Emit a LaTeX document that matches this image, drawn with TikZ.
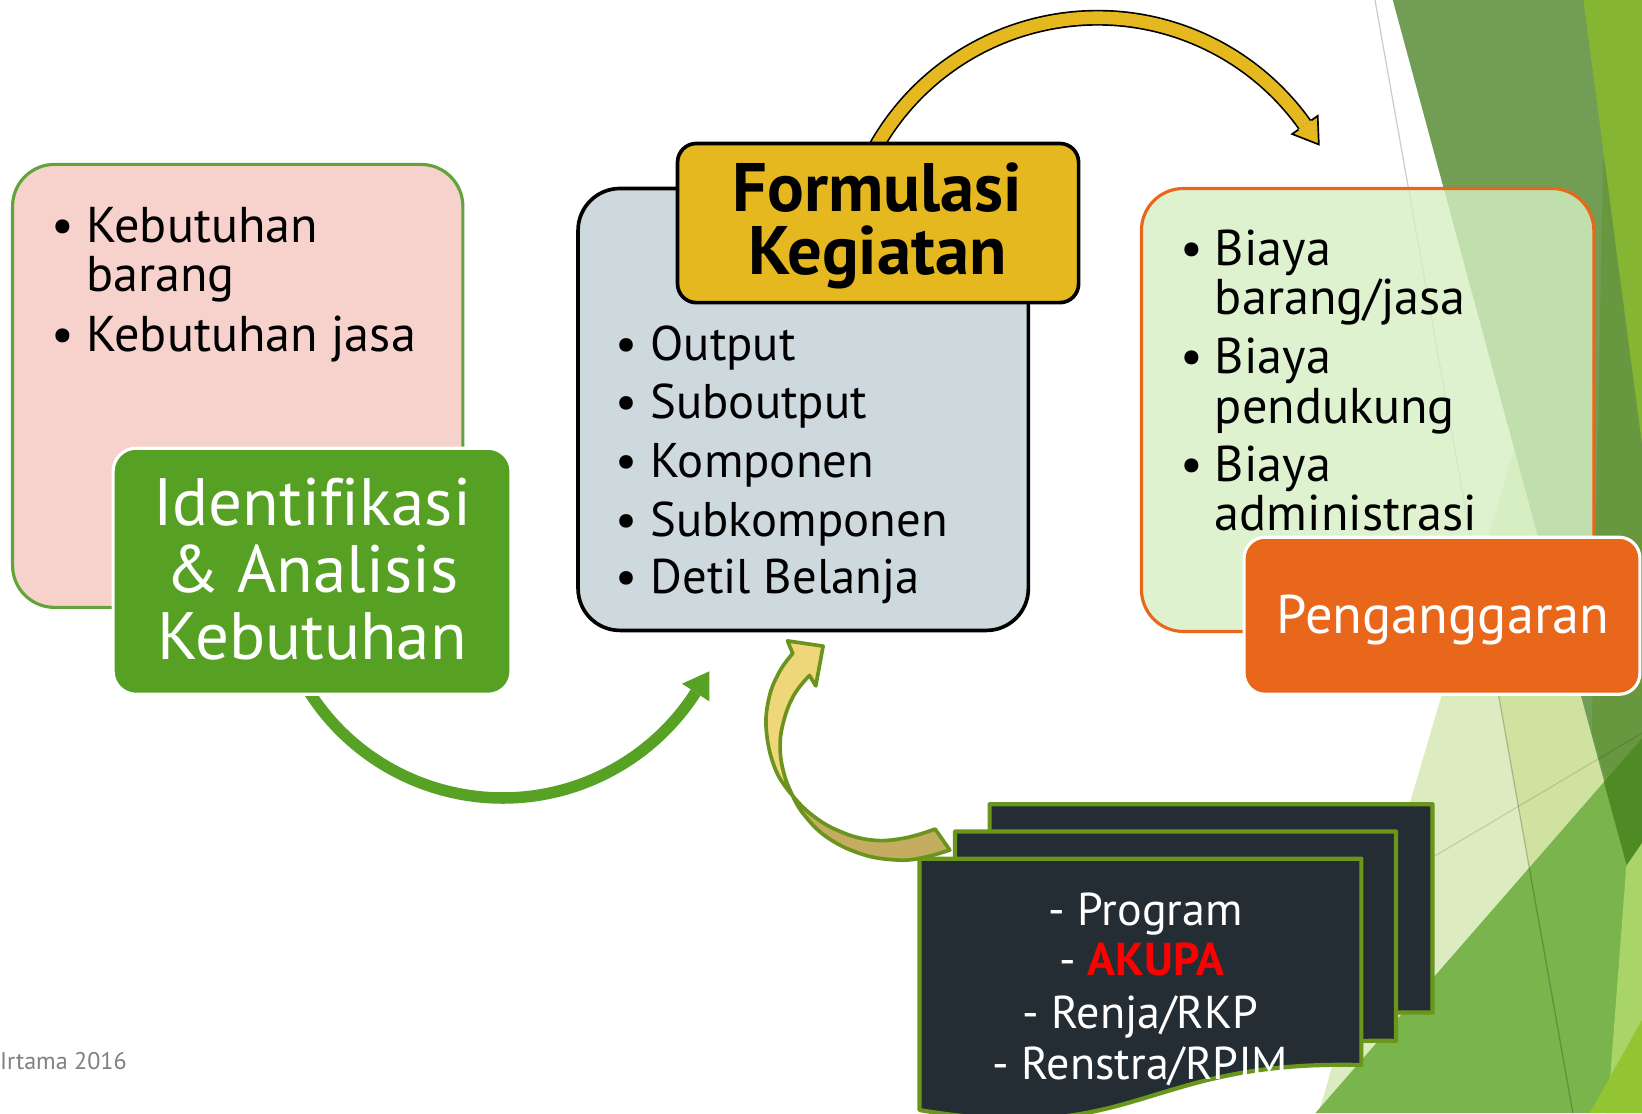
\documentclass[tikz,border=0pt]{standalone}
\usepackage{fontspec}
\setmainfont{PT Sans}[Ligatures=NoCommon]
\usetikzlibrary{calc}
\definecolor{pinkfill}{RGB}{247,210,205}
\definecolor{pinkedge}{RGB}{98,163,58}
\definecolor{gboxfill}{RGB}{86,161,35}
\definecolor{grayfill}{RGB}{206,217,222}
\definecolor{yelfill}{RGB}{228,184,30}
\definecolor{orangec}{RGB}{232,103,26}
\definecolor{rboxfill}{RGB}{214,239,196}
\definecolor{docfill}{RGB}{36,45,51}
\definecolor{docedge}{RGB}{106,150,28}
\definecolor{khakiedge}{RGB}{107,148,30}
\definecolor{khakiup}{RGB}{240,214,122}
\definecolor{khakilow}{RGB}{196,172,96}
\definecolor{garrow}{RGB}{87,161,37}
\definecolor{bgdark}{RGB}{113,157,85}
\definecolor{bgdeeper}{RGB}{103,152,64}
\definecolor{bgyg}{RGB}{134,181,52}
\definecolor{bgmid}{RGB}{122,180,76}
\definecolor{bgpale}{RGB}{220,235,192}
\definecolor{bgpaleb}{RGB}{208,226,160}
\definecolor{bglight}{RGB}{169,212,104}
\definecolor{bgygb}{RGB}{147,196,50}
\definecolor{bgdeep}{RGB}{80,138,36}
\definecolor{footgray}{RGB}{128,128,128}
\definecolor{akupared}{RGB}{255,0,0}
\tikzset{
  roundbox/.style={inner sep=0pt, outer sep=0pt},
  itemL/.style={inner sep=0pt, anchor=base west, font=\fontsize{48}{52}\selectfont},
  dotL/.style={inner sep=0pt, anchor=base, font=\fontsize{48}{52}\selectfont},
  itemC/.style={inner sep=0pt, anchor=base west, font=\fontsize{46.5}{50}\selectfont},
  dotC/.style={inner sep=0pt, anchor=base, font=\fontsize{46.5}{50}\selectfont},
  gboxtxt/.style={inner sep=0pt, anchor=base, text=white, font=\fontsize{64}{66}\selectfont},
  ftxt/.style={inner sep=0pt, anchor=base, font=\fontsize{65.5}{68}\selectfont\bfseries},
  ptxt/.style={inner sep=0pt, anchor=base, text=white, font=\fontsize{52}{54}\selectfont},
  doctxt/.style={inner sep=0pt, anchor=base, text=white, font=\fontsize{44}{46}\selectfont},
  docshape/.style={fill=docfill, draw=docedge, line width=4, line join=round},
  khakiline/.style={draw=khakiedge, line width=3.5, line join=round},
}
\begin{document}
\begin{tikzpicture}[x=1pt,y=-1pt]
\useasboundingbox (0,0) rectangle (1568,1063);
\fill[white] (0,0) rectangle (1568,1063);
% background facets
\begin{scope}
\clip (0,0) rectangle (1568,1063);
\fill[bgpale] (1445.6,430) -- (1568,705) -- (1259,1063) -- cycle;
\fill[bgpaleb] (1405.6,520) -- (1460,828) -- (1531.6,746.7) -- (1470,520) -- cycle;
\fill[bgdark] (1330,0) -- (1568,0) -- (1568,880) -- cycle;
\fill[bgdeeper] (1531,150) -- (1568,300) -- (1568,860) -- (1520,700) -- cycle;
\fill[bgyg] (1512,0) -- (1568,0) -- (1568,424) -- cycle;
\fill[bgmid] (1256,1063) -- (1568,705) -- (1568,1063) -- cycle;
\fill[bgdeep] (1531.6,746.7) -- (1568,705) -- (1568,880) -- cycle;
\fill[bglight] (1553,827) -- (1568,805) -- (1568,1063) -- (1535,1063) -- cycle;
\fill[bgygb] (1518,1063) -- (1568,974) -- (1568,1063) -- cycle;
\draw[black, draw opacity=0.2, line width=1.2] (1313,0) -- (1502,1063);
\draw[black, draw opacity=0.12, line width=1.2] (1300,859) -- (1568,700);
\end{scope}

% yellow arrow (Formulasi -> Penganggaran)
\draw[black, line width=1.6, double=yelfill, double distance=12] (833.4,145.9) arc[start angle=-152, end angle=-35.4, radius=243];
\fill[yelfill] (1259.4,138.0) -- (1258.3,110.6) -- (1233.9,128.0) -- cycle;
\draw[black, line width=1.6, line join=miter] (1252.3,114.9) -- (1258.3,110.6) -- (1259.4,138.0) -- (1233.9,128.0) -- (1239.9,123.7);

% left: needs box
\node[roundbox, draw=pinkedge, line width=3, fill=pinkfill, rounded corners=40, minimum width=430, minimum height=423] (need) at (227,368.5) {};
\node[dotL] (nb1) at (60,232) {•};
\node[itemL] (n1) at (82,232) {Kebutuhan};
\node[itemL] (n1b) at (82,278) {barang};
\node[dotL] (nb2) at (60,336) {•};
\node[itemL] (n2) at (82,336) {Kebutuhan jasa};

% green arrow
\draw[garrow, line width=11] (290.3,652.5) arc[start angle=150, end angle=32.7, radius=219];
\fill[garrow] (677.3,641.1) -- (677.3,669.7) -- (651.3,652.9) -- cycle;

% green title box
\node[roundbox, draw=white, line width=3, fill=gboxfill, rounded corners=22, minimum width=380, minimum height=235] (ident) at (298,545.5) {};
\node[gboxtxt] (i1) at (298,502) {Identifikasi};
\node[gboxtxt] (i2) at (298,566) {\& Analisis};
\node[gboxtxt] (i3) at (298,630) {Kebutuhan};

% center box
\node[roundbox, draw=black, line width=3.5, fill=grayfill, rounded corners=40, minimum width=430, minimum height=422] (act) at (767,391) {};
\node[dotC] (cb1) at (598,344) {•};
\node[itemC] (c1) at (621,344) {Output};
\node[dotC] (cb2) at (598,400) {•};
\node[itemC] (c2) at (621,400) {Suboutput};
\node[dotC] (cb3) at (598,456) {•};
\node[itemC] (c3) at (621,456) {Komponen};
\node[dotC] (cb4) at (598,512) {•};
\node[itemC] (c4) at (621,512) {Subkomponen};
\node[dotC] (cb5) at (598,567) {•};
\node[itemC] (c5) at (621,567) {Detil Belanja};

% yellow title box
\node[roundbox, draw=black, line width=3.5, fill=yelfill, rounded corners=18, minimum width=383, minimum height=152] (form) at (838.5,213) {};
\node[ftxt] (f1) at (838,202) {Formulasi};
\node[ftxt] (f2) at (838,262) {Kegiatan};

% right box
\node[roundbox, draw=orangec, line width=3, fill=rboxfill, fill opacity=0.8, rounded corners=40, minimum width=432, minimum height=423] (cost) at (1306,391.5) {};
\node[dotL] (rb1) at (1138,254) {•};
\node[itemL] (r1) at (1160,254) {Biaya};
\node[itemL] (r1b) at (1160,300) {barang/jasa};
\node[dotL] (rb2) at (1138,357) {•};
\node[itemL] (r2) at (1160,357) {Biaya};
\node[itemL] (r2b) at (1160,404) {pendukung};
\node[dotL] (rb3) at (1138,460) {•};
\node[itemL] (r3) at (1160,460) {Biaya};
\node[itemL] (r3b) at (1160,507) {administrasi};

% orange title box
\node[roundbox, draw=white, line width=3, fill=orangec, rounded corners=20, minimum width=378, minimum height=150] (budget) at (1377,588) {};
\node[ptxt] (p1) at (1378,605) {Penganggaran};

% khaki curved arrow (documents -> Formulasi)
\filldraw[fill=khakilow, khakiline]
  plot[smooth, tension=0.7] coordinates {(757,760) (767,777) (789,799) (821,815) (853,821) (878.5,819.6) (907,811.7)}
  -- (893,791.7) --
  plot[smooth, tension=0.7] coordinates {(893,791.7) (862.6,800.5) (831,802) (799,792.6) (773.5,776.7) (757,760)} -- cycle;
\filldraw[fill=khakiup, khakiline]
  plot[smooth, tension=0.7] coordinates {(757,760) (741,736) (732,700) (734,668) (744,642) (757,624)}
  -- (752,612) -- (786,617) -- (779,655) --
  plot[smooth, tension=0.7] coordinates {(773,645) (758,664) (748,690) (745,715) (749,740) (757,760)} -- cycle;

% document stack
\filldraw[docshape] (945,768) -- (1368,768) -- (1368,967) .. controls (1156,962) and (1156,1040) .. (945,1000) -- cycle;
\filldraw[docshape] (912,794) -- (1333,794) -- (1333,994) .. controls (1122,990) and (1122,1068) .. (912,1030) -- cycle;
\filldraw[docshape] (878,820) -- (1300,820) -- (1300,1017) .. controls (1089,1012) and (1089,1095) .. (878,1060) -- cycle;
\node[doctxt] (d1) at (1094,884) {- Program};
\node[doctxt] (d2) at (1090,932) {- \textcolor{akupared}{\bfseries AKUPA}};
\node[doctxt] (d3) at (1089,982) {- Renja/RKP};
\node[doctxt] (d4) at (1089,1031) {- Renstra/RPJM};

% footer
\node[inner sep=0pt, anchor=base west, text=footgray, font=\fontsize{23}{25}\selectfont] (foot) at (0,1021) {Irtama 2016};
\end{tikzpicture}
\end{document}
